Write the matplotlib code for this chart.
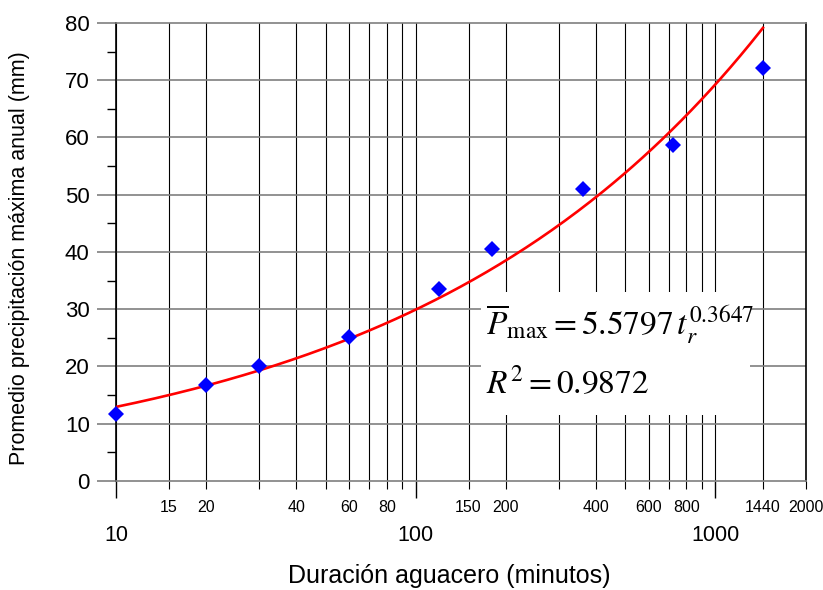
import numpy as np
import matplotlib
matplotlib.use("Agg")
import matplotlib.pyplot as plt
from matplotlib.patches import Rectangle

# observed data (duration in minutes, mean annual max precipitation in mm)
duracion = [10, 20, 30, 60, 120, 180, 360, 720, 1440]
precip = [11.6, 16.8, 20.0, 25.1, 33.6, 40.5, 51.0, 58.6, 72.2]

# fitted power law
coef_a = 5.5797
coef_b = 0.3647

major_x = [10, 100, 1000]
minor_x = [15, 20, 30, 40, 50, 60, 70, 80, 90, 150, 200, 300, 400, 500,
           600, 700, 800, 900, 1440, 2000]
minor_lbl = ["15", "20", "", "40", "", "60", "", "80", "", "150", "200", "",
             "400", "", "600", "", "800", "", "1440", "2000"]

plt.rcParams['font.family'] = ['Liberation Sans', 'DejaVu Sans']

fig = plt.figure(figsize=(8.23, 5.90), dpi=100)
ax = fig.add_axes([0.141, 0.185, 0.838, 0.776])

ax.set_xscale('log')
ax.set_xlim(10, 2000)
ax.set_ylim(0, 80)

# grid lines: vertical black at every tick, horizontal gray every 10
for v in major_x + minor_x:
    ax.axvline(v, color='black', lw=0.8, zorder=1)
for h in range(10, 80, 10):
    ax.axhline(h, color='#7f7f7f', lw=1.2, zorder=1)

# curve
t = np.logspace(1, np.log10(1440), 200)
ax.plot(t, coef_a * t ** coef_b, color='red', lw=1.9, zorder=3)
ax.plot(duracion, precip, 'D', color='blue', markersize=8, zorder=4,
        markeredgewidth=0, clip_on=False)

# equation box
ax.add_patch(Rectangle((165, 11.5), 1306 - 165, 33.0 - 11.5,
                       facecolor='white', edgecolor='none', zorder=2))
ax.text(172, 27.4, r'$\overline{P}_{\mathrm{max}} = 5.5797\,t_r^{0.3647}$',
        fontsize=24, math_fontfamily='stix', zorder=5, va='center')
ax.text(172, 17.0, r'$R^2 = 0.9872$',
        fontsize=24, math_fontfamily='stix', zorder=5, va='center')

# x ticks
ax.set_xticks(major_x)
ax.set_xticklabels(["10", "100", "1000"])
ax.set_xticks(minor_x, minor=True)
ax.set_xticklabels(minor_lbl, minor=True)
ax.tick_params(axis='x', which='major', direction='out', length=12, width=1,
               pad=20, labelsize=15.5)
ax.tick_params(axis='x', which='minor', direction='out', length=6, width=0.8,
               pad=8, labelsize=11.5)

# y ticks
ax.set_yticks(range(0, 81, 10))
ax.set_yticks(range(5, 80, 10), minor=True)
ax.tick_params(axis='y', which='major', direction='out', length=14,
               color='#7f7f7f', width=1.2, pad=5, labelsize=16)
ax.tick_params(axis='y', which='minor', direction='out', length=6.5, width=1)

ax.spines['left'].set_color('black')
ax.spines['right'].set_color('black')
ax.spines['top'].set_color('#7f7f7f')
ax.spines['bottom'].set_color('#7f7f7f')
for s in ax.spines.values():
    s.set_linewidth(1.2)
    s.set_zorder(2)

ax.set_xlabel("Duración aguacero (minutos)", fontsize=18)
ax.set_ylabel("Promedio precipitación máxima anual (mm)", fontsize=15.5)
ax.xaxis.set_label_coords(0.483, -0.181)
ax.yaxis.set_label_coords(-0.125, 0.486)

fig.savefig("out.png", dpi=100)
